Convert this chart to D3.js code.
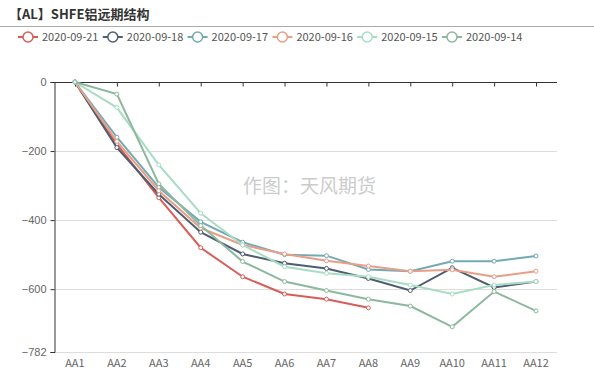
<!DOCTYPE html>
<html>
<head>
<meta charset="utf-8">
<script src="https://cdn.jsdelivr.net/npm/d3@7"></script>
<style>
  body { margin: 0; background: #fff; }
  svg { display: block; font-family: "Microsoft YaHei", "Noto Sans CJK SC", sans-serif; }
</style>
</head>
<body>
<div id="chart"></div>
<script>
"use strict"

// ---- data ----
let categories = ["AA1", "AA2", "AA3", "AA4", "AA5", "AA6", "AA7", "AA8", "AA9", "AA10", "AA11", "AA12"];
let seriesNames = ["2020-09-21", "2020-09-18", "2020-09-17", "2020-09-16", "2020-09-15", "2020-09-14"];
let seriesColors = ["#d95c58", "#4e5d6f", "#72aab4", "#e99e88", "#a8dcc4", "#8db89d"];

let s0921 = [0, -180, -335, -480, -564, -614, -629, -654];
let s0918 = [0, -190, -325, -435, -498, -525, -540, -569, -604, -538, -595, -578];
let s0917 = [0, -160, -305, -405, -464, -500, -503, -543, -548, -519, -519, -504];
let s0916 = [0, -172, -315, -423, -472, -498, -518, -533, -548, -544, -564, -548];
let s0915 = [0, -74, -240, -380, -472, -535, -554, -564, -588, -614, -588, -578];
let s0914 = [0, -35, -295, -416, -520, -578, -604, -629, -649, -709, -607, -663];
let seriesValues = [s0921, s0918, s0917, s0916, s0915, s0914];

let yTicks = [0, -200, -400, -600, -782];

// ---- canvas ----
let width = 594, height = 373;
let plotLeft = 54, plotRight = 557, plotTop = 82, plotBottom = 352;

let svg = d3.select("#chart").append("svg")
    .attr("width", width)
    .attr("height", height);

// title + rule
svg.append("text")
    .attr("x", 9).attr("y", 18.5)
    .attr("font-size", 13).attr("font-weight", "bold").attr("fill", "#333")
    .text("【AL】SHFE铝远期结构");
svg.append("line")
    .attr("x1", 0).attr("x2", width).attr("y1", 26.5).attr("y2", 26.5)
    .attr("stroke", "#aaa").attr("stroke-width", 1);

// scales
let x = d3.scalePoint().domain(categories).range([plotLeft, plotRight]).padding(0.5);
let y = d3.scaleLinear().domain([-782, 0]).range([plotBottom, plotTop]);

// grid lines
svg.append("g").selectAll("line")
    .data(yTicks.filter(d => d != 0))
    .join("line")
    .attr("x1", plotLeft).attr("x2", plotRight)
    .attr("y1", d => Math.round(y(d)) + 0.5).attr("y2", d => Math.round(y(d)) + 0.5)
    .attr("stroke", "#ddd");

// watermark
svg.append("text")
    .attr("x", (plotLeft + plotRight) / 2 + 4).attr("y", 193)
    .attr("text-anchor", "middle")
    .attr("font-size", 19).attr("fill", "#ccc")
    .text("作图：天风期货");

// y axis
let yAxis = svg.append("g")
    .attr("transform", `translate(${plotLeft + 0.5},0)`)
    .call(d3.axisLeft(y).tickValues(yTicks).tickSize(4).tickPadding(4).tickFormat(d3.format("d")));
yAxis.select(".domain").attr("stroke", "#333");
yAxis.selectAll(".tick line").attr("stroke", "#333");
yAxis.selectAll("text").attr("fill", "#666").attr("font-size", 11).attr("font-family", null);

// x axis sits on the zero line, labels at the bottom
let xAxis = svg.append("g")
    .attr("transform", `translate(0,${Math.round(y(0)) + 0.5})`)
    .call(d3.axisBottom(x).tickSize(4).tickSizeOuter(0).tickFormat(""));
xAxis.select(".domain").attr("stroke", "#333").attr("d", `M${plotLeft},0H${plotRight}`);
xAxis.selectAll(".tick line").attr("stroke", "#333");

svg.append("g").selectAll("text")
    .data(categories)
    .join("text")
    .attr("x", d => x(d)).attr("y", plotBottom + 15)
    .attr("text-anchor", "middle")
    .attr("font-size", 11).attr("fill", "#666")
    .text(d => d);

// lines
let line = d3.line()
    .x((d, i) => x(categories[i]))
    .y(d => y(d));

seriesValues.forEach((vals, k) => {
    let g = svg.append("g");
    g.append("path")
        .attr("d", line(vals))
        .attr("fill", "none")
        .attr("stroke", seriesColors[k])
        .attr("stroke-width", 2);
    g.selectAll("circle")
        .data(vals)
        .join("circle")
        .attr("cx", (d, i) => x(categories[i]))
        .attr("cy", d => y(d))
        .attr("r", 2)
        .attr("fill", "#fff")
        .attr("stroke", seriesColors[k])
        .attr("stroke-width", 1);
});

// legend
let legend = svg.append("g");
seriesNames.forEach((name, k) => {
    let lx = 18 + k * 84.8, ly = 37;
    legend.append("line")
        .attr("x1", lx).attr("x2", lx + 20).attr("y1", ly).attr("y2", ly)
        .attr("stroke", seriesColors[k]).attr("stroke-width", 2);
    legend.append("circle")
        .attr("cx", lx + 10).attr("cy", ly).attr("r", 5)
        .attr("fill", "#fff").attr("stroke", seriesColors[k]).attr("stroke-width", 1.5);
    legend.append("text")
        .attr("x", lx + 24).attr("y", ly + 4)
        .attr("font-size", 11).attr("fill", "#555")
        .text(name);
});
</script>
</body>
</html>
